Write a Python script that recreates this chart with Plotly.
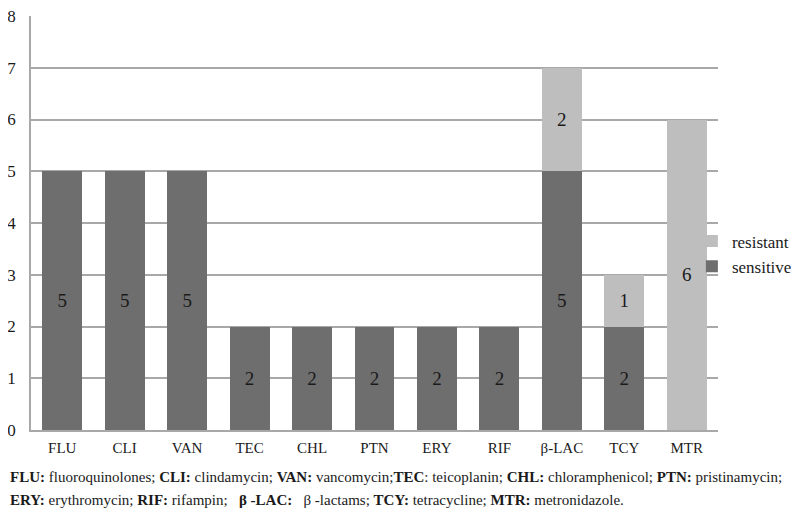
import plotly.graph_objects as go

categories = ["FLU", "CLI", "VAN", "TEC", "CHL", "PTN", "ERY", "RIF", "β-LAC", "TCY", "MTR"]
sensitive = [5, 5, 5, 2, 2, 2, 2, 2, 5, 2, 0]
resistant = [0, 0, 0, 0, 0, 0, 0, 0, 2, 1, 6]

_DARK = "#6e6e6e"
_LIGHT = "#bebebe"
_GRID = "#a8a8a8"
_TEXT = "#1a1a1a"
_SERIF = "Liberation Serif, Times New Roman, serif"


def _labels(vals):
    return [str(v) if v else "" for v in vals]


fig = go.Figure()

fig.add_trace(go.Bar(
    x=categories, y=sensitive, name="sensitive",
    marker=dict(color=_DARK, line_width=0),
    text=_labels(sensitive), textposition="inside", insidetextanchor="middle",
    textfont=dict(family=_SERIF, size=19, color=_TEXT),
    textangle=0,
))
fig.add_trace(go.Bar(
    x=categories, y=resistant, name="resistant",
    marker=dict(color=_LIGHT, line_width=0),
    text=_labels(resistant), textposition="inside", insidetextanchor="middle",
    textfont=dict(family=_SERIF, size=19, color=_TEXT),
    textangle=0,
))

# footnote, two lines placed separately to control the line spacing
footnote_lines = [
    "<b>FLU:</b> fluoroquinolones; <b>CLI:</b> clindamycin; <b>VAN:</b> vancomycin;"
    "<b>TEC</b>: teicoplanin; <b>CHL:</b> chloramphenicol; <b>PTN:</b> pristinamycin;",
    "<b>ERY:</b> erythromycin; <b>RIF:</b> rifampin;   <b>β -LAC:</b>   β -lactams; "
    "<b>TCY:</b> tetracycline; <b>MTR:</b> metronidazole.",
]
for line, ypos in zip(footnote_lines, [-0.1135, -0.169]):
    fig.add_annotation(
        text=line,
        xref="paper", yref="paper",
        x=-0.0335, y=ypos,
        xanchor="left", yanchor="middle",
        align="left",
        showarrow=False,
        font=dict(family=_SERIF, size=15, color=_TEXT),
    )

fig.update_layout(
    width=800, height=512,
    barmode="stack",
    bargap=0.36,
    paper_bgcolor="white",
    plot_bgcolor="white",
    margin=dict(l=23, r=90, t=8, b=90, autoexpand=False),
    font=dict(family=_SERIF, color=_TEXT),
    showlegend=True,
    legend=dict(
        x=0.962, y=0.425,
        xanchor="left", yanchor="middle",
        traceorder="reversed",
        font=dict(family=_SERIF, size=17, color=_TEXT),
        itemwidth=30,
        bgcolor="rgba(0,0,0,0)",
    ),
    xaxis=dict(
        automargin=False,
        showgrid=False,
        showline=True, linecolor=_GRID, linewidth=1.5,
        ticks="",
        ticklabelstandoff=3,
        tickfont=dict(family=_SERIF, size=15, color=_TEXT),
    ),
    yaxis=dict(
        automargin=False,
        range=[0, 8],
        dtick=1,
        showgrid=True, gridcolor=_GRID, gridwidth=1.5,
        showline=True, linecolor=_GRID, linewidth=1.5,
        zeroline=False,
        ticks="",
        ticklabelstandoff=10,
        ticklabeloverflow="allow",
        tickfont=dict(family=_SERIF, size=17, color=_TEXT),
    ),
)

fig.write_html("out.html")
